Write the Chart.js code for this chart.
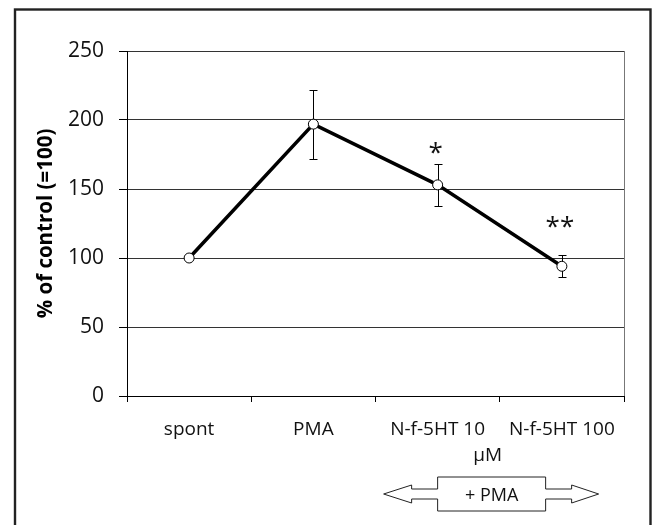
<!DOCTYPE html>
<html>
<head>
<meta charset="utf-8">
<script src="https://cdn.jsdelivr.net/npm/chart.js@4/dist/chart.umd.min.js"></script>
<style>
html,body{margin:0;padding:0;background:#fff;}
#wrap{width:655px;height:525px;position:relative;}
</style>
</head>
<body>
<div id="wrap"><canvas id="c" width="655" height="525"></canvas></div>
<script>
const categories = ["spont", "PMA", "N-f-5HT 10", "N-f-5HT 100"];
const values = [100, 197, 153, 94];
const errors = [0, 25, 15, 8];
const significance = ["", "", "*", "**"];
const significanceY = [null, null, 180, 126];
const yTicks = [0, 50, 100, 150, 200, 250];
const yTitle = "% of control (=100)";
const unitLabel = "µM";
const bracketLabel = "+ PMA";

const FONT = "'Open Sans', 'Noto Sans', sans-serif";

const decor = {
  id: 'decor',
  beforeDraw(chart) {
    const ctx = chart.ctx;
    ctx.save();
    ctx.fillStyle = '#fff';
    ctx.fillRect(0, 0, chart.width, chart.height);
    ctx.strokeStyle = '#222';
    ctx.lineWidth = 2.4;
    ctx.strokeRect(15, 9.5, 635.5, 540);
    ctx.restore();
  },
  beforeDatasetsDraw(chart) {
    const ctx = chart.ctx;
    const xs = chart.scales.x, ys = chart.scales.y;
    const ca = chart.chartArea;
    ctx.save();
    ctx.strokeStyle = '#777';
    ctx.lineWidth = 1;
    ctx.beginPath();
    ctx.moveTo(ca.right + 0.5, ca.top);
    ctx.lineTo(ca.right + 0.5, ca.bottom);
    ctx.stroke();
    ctx.strokeStyle = '#000';
    ctx.lineWidth = 1;
    values.forEach((v, i) => {
      const e = errors[i];
      if (!e) return;
      const x = Math.round(xs.getPixelForValue(i)) + 0.5;
      const yt = Math.round(ys.getPixelForValue(v + e)) + 0.5;
      const yb = Math.round(ys.getPixelForValue(v - e)) + 0.5;
      ctx.beginPath();
      ctx.moveTo(x, yt); ctx.lineTo(x, yb);
      ctx.moveTo(x - 4, yt); ctx.lineTo(x + 4, yt);
      ctx.moveTo(x - 4, yb); ctx.lineTo(x + 4, yb);
      ctx.stroke();
    });
    ctx.restore();
  },
  afterDraw(chart) {
    const ctx = chart.ctx;
    const xs = chart.scales.x, ys = chart.scales.y;
    const ca = chart.chartArea;
    ctx.save();
    ctx.fillStyle = '#111';
    ctx.textAlign = 'center';
    ctx.textBaseline = 'alphabetic';
    ctx.font = '26px ' + FONT;
    significance.forEach((s, i) => {
      if (!s) return;
      const m = ctx.measureText(s);
      const x = xs.getPixelForValue(i) - 2;
      const yc = ys.getPixelForValue(significanceY[i]);
      const base = yc + (m.actualBoundingBoxAscent - m.actualBoundingBoxDescent) / 2;
      ctx.fillText(s, x, base);
    });
    ctx.textBaseline = 'middle';
    const c2 = xs.getPixelForValue(2), c3 = xs.getPixelForValue(3);
    const mid = (c2 + c3) / 2 - 12;
    ctx.font = '19px ' + FONT;
    ctx.fillText(unitLabel, mid, ca.bottom + 60);
    const by = ca.bottom + 98;
    const L = c2, R = c2 + 108;
    const lt = L - 54, rt = R + 53;
    ctx.strokeStyle = '#222';
    ctx.lineWidth = 1;
    ctx.beginPath();
    ctx.moveTo(L, by - 17);
    ctx.lineTo(R, by - 17);
    ctx.lineTo(R, by - 5);
    ctx.lineTo(rt - 27, by - 5);
    ctx.lineTo(rt - 27, by - 9);
    ctx.lineTo(rt, by);
    ctx.lineTo(rt - 27, by + 9);
    ctx.lineTo(rt - 27, by + 5);
    ctx.lineTo(R, by + 5);
    ctx.lineTo(R, by + 17);
    ctx.lineTo(L, by + 17);
    ctx.lineTo(L, by + 5);
    ctx.lineTo(lt + 28, by + 5);
    ctx.lineTo(lt + 28, by + 9);
    ctx.lineTo(lt, by);
    ctx.lineTo(lt + 28, by - 9);
    ctx.lineTo(lt + 28, by - 5);
    ctx.lineTo(L, by - 5);
    ctx.closePath();
    ctx.stroke();
    ctx.font = '18px ' + FONT;
    ctx.fillText(bracketLabel, (L + R) / 2, by + 2);
    ctx.restore();
  }
};

new Chart(document.getElementById('c'), {
  type: 'line',
  data: {
    labels: categories,
    datasets: [{
      data: values,
      borderColor: '#000',
      borderWidth: 3.5,
      pointRadius: 5,
      pointBackgroundColor: '#fff',
      pointBorderColor: '#000',
      pointBorderWidth: 1,
      tension: 0,
      clip: false
    }]
  },
  options: {
    responsive: false,
    animation: false,
    events: [],
    layout: { padding: { left: 0, top: 51, right: 31, bottom: 0 } },
    plugins: { legend: { display: false }, tooltip: { enabled: false } },
    scales: {
      x: {
        type: 'category',
        offset: true,
        grid: { offset: true, drawOnChartArea: false, tickLength: 6, tickColor: '#000', color: '#000' },
        border: { color: '#000', width: 1 },
        ticks: { color: '#111', font: { family: FONT, size: 19 }, padding: 16, maxRotation: 0, autoSkip: false },
        afterFit(s) { s.height = 129; }
      },
      y: {
        min: 0, max: 250,
        afterBuildTicks(s) { s.ticks = yTicks.map(v => ({ value: v })); },
        grid: { color: '#333', lineWidth: 1, tickLength: 8, tickColor: '#000' },
        border: { color: '#000', width: 1 },
        ticks: { color: '#111', font: { family: FONT, size: 21 }, padding: 15 },
        title: { display: true, text: yTitle, color: '#000', font: { family: FONT, size: 20.5, weight: 'bold' }, padding: { top: 34, bottom: 0 } },
        afterFit(s) { s.width = 127; }
      }
    }
  },
  plugins: [decor]
});
</script>
</body>
</html>
